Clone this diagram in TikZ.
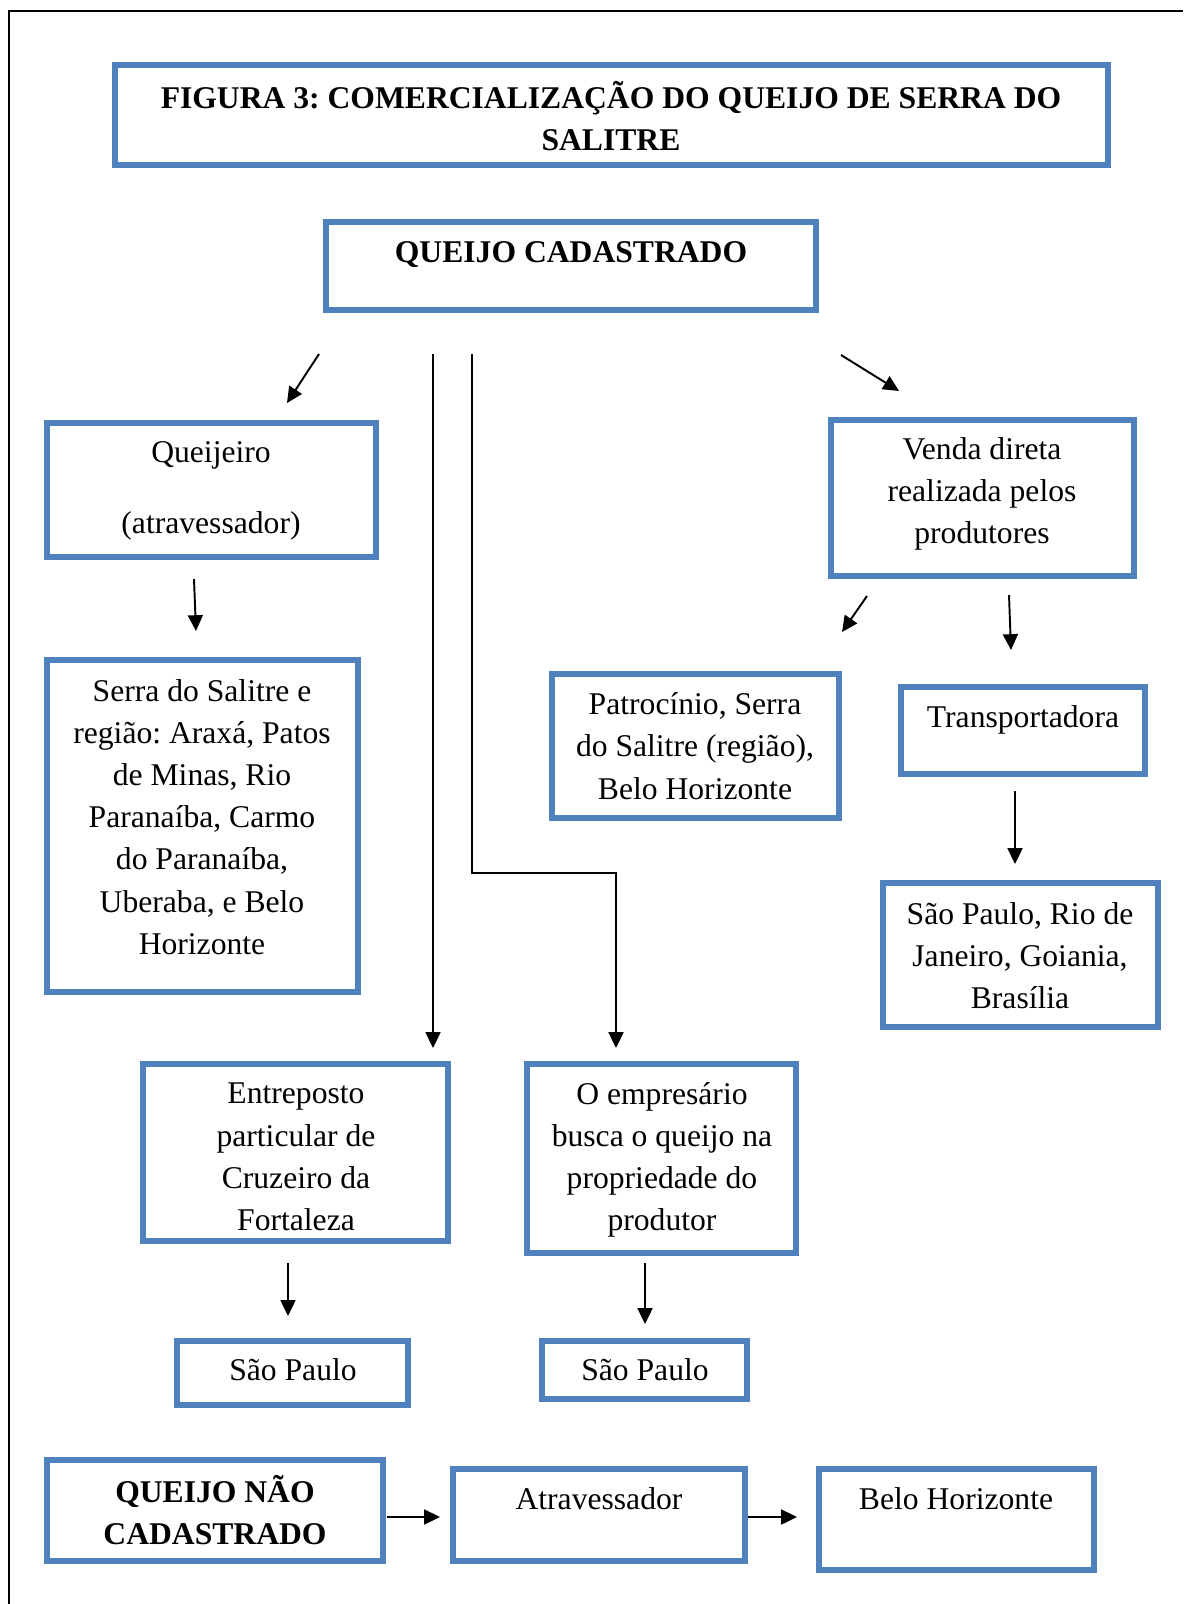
\documentclass[tikz,border=0pt]{standalone}
\usepackage{fontspec}
\setmainfont{Liberation Serif}
\usetikzlibrary{arrows.meta}
\definecolor{boxblue}{RGB}{79,129,189}
\frenchspacing
\tikzset{
  box/.style={draw=boxblue, line width=3.4pt, inner sep=0pt},
  txt/.style={align=center, inner sep=0pt, font=\fontsize{18}{24}\selectfont},
  btxt/.style={txt, font=\fontsize{18}{23.5}\selectfont\bfseries},
  arr/.style={-{Triangle[length=9pt,width=8.5pt]}, line width=1.1pt},
}
\begin{document}
\begin{tikzpicture}[x=0.02cm, y=-0.02cm]
\useasboundingbox (0,0) rectangle (1183,1604);

% frame
\coordinate (fbl) at (9,1604);
\coordinate (ftl) at (9,11);
\coordinate (ftr) at (1183,11);
\draw[line width=1.1pt] (fbl) -- (ftl) -- (ftr);

% title
\node[box, minimum width=19.86cm, minimum height=2cm] (title) at (611.5,115) {};
\node[btxt] (title-t) at (611,116) {FIGURA 3: COMERCIALIZAÇÃO DO QUEIJO DE SERRA DO\\SALITRE};

% queijo cadastrado
\node[box, minimum width=9.8cm, minimum height=1.76cm] (cad) at (571,266) {};
\node[btxt] (cad-t) at (571,255) {QUEIJO CADASTRADO};

% left branch
\node[box, minimum width=6.58cm, minimum height=2.68cm] (qjo) at (211.5,490) {};
\node[txt] (qjo-t) at (211,491) {Queijeiro\\[16pt](atravessador)};
\node[box, minimum width=6.22cm, minimum height=6.64cm] (reg) at (202.5,826) {};
\node[txt] (reg-t) at (202,817) {Serra do Salitre e\\região: Araxá, Patos\\de Minas, Rio\\Paranaíba, Carmo\\do Paranaíba,\\Uberaba, e Belo\\Horizonte};

% right branch
\node[box, minimum width=6.06cm, minimum height=3.12cm] (ven) at (982.5,498) {};
\node[txt] (ven-t) at (982,494) {Venda direta\\realizada pelos\\produtores};
\node[box, minimum width=5.74cm, minimum height=2.88cm] (pat) at (695.5,746) {};
\node[txt] (pat-t) at (695,746) {Patrocínio, Serra\\do Salitre (região),\\Belo Horizonte};
\node[box, minimum width=4.88cm, minimum height=1.74cm] (trp) at (1023,730.5) {};
\node[txt] (trp-t) at (1023,720) {Transportadora};
\node[box, minimum width=5.5cm, minimum height=2.88cm] (cid) at (1020.5,955) {};
\node[txt] (cid-t) at (1020,956) {São Paulo, Rio de\\Janeiro, Goiania,\\Brasília};

% middle branches
\node[box, minimum width=6.1cm, minimum height=3.54cm] (ent) at (295.5,1152.5) {};
\node[txt] (ent-t) at (296,1157) {Entreposto\\particular de\\Cruzeiro da\\Fortaleza};
\node[box, minimum width=5.38cm, minimum height=3.78cm] (emp) at (661.5,1158.5) {};
\node[txt] (emp-t) at (662,1160) {O empresário\\busca o queijo na\\propriedade do\\produtor};
\node[box, minimum width=4.62cm, minimum height=1.28cm] (sp1) at (292.5,1373) {};
\node[txt] (sp1-t) at (293,1370) {São Paulo};
\node[box, minimum width=4.1cm, minimum height=1.16cm] (sp2) at (644.5,1370) {};
\node[txt] (sp2-t) at (645,1370) {São Paulo};

% queijo nao cadastrado
\node[box, minimum width=6.72cm, minimum height=2.02cm] (nao) at (215,1510.5) {};
\node[btxt] (nao-t) at (215,1510) {QUEIJO NÃO\\CADASTRADO};
\node[box, minimum width=5.84cm, minimum height=1.84cm] (atr) at (599,1515) {};
\node[txt] (atr-t) at (599,1499) {Atravessador};
\node[box, minimum width=5.5cm, minimum height=2.02cm] (bh) at (956.5,1519.5) {};
\node[txt] (bh-t) at (956,1499) {Belo Horizonte};

% arrow ends
\coordinate (a1s) at (319,354);  \coordinate (a1e) at (287,403);
\coordinate (v1s) at (433,354);  \coordinate (v1e) at (433,1048);
\coordinate (v2s) at (472,354);  \coordinate (v2k) at (472,873);
\coordinate (v2m) at (616,873);  \coordinate (v2e) at (616,1048);
\coordinate (a4s) at (841,355);  \coordinate (a4e) at (899,391);
\coordinate (a5s) at (194,579);  \coordinate (a5e) at (196,631);
\coordinate (a6s) at (867,596);  \coordinate (a6e) at (842,632);
\coordinate (a7s) at (1009,595); \coordinate (a7e) at (1011,650);
\coordinate (a8s) at (1015,791); \coordinate (a8e) at (1015,864);
\coordinate (a9s) at (288,1263); \coordinate (a9e) at (288,1316);
\coordinate (a10s) at (645,1263); \coordinate (a10e) at (645,1324);
\coordinate (a11s) at (387,1517); \coordinate (a11e) at (440,1517);
\coordinate (a12s) at (748,1517); \coordinate (a12e) at (797,1517);

% arrows
\draw[arr] (a1s) -- (a1e);
\draw[arr] (v1s) -- (v1e);
\draw[arr] (v2s) -- (v2k) -- (v2m) -- (v2e);
\draw[arr] (a4s) -- (a4e);
\draw[arr] (a5s) -- (a5e);
\draw[arr] (a6s) -- (a6e);
\draw[arr] (a7s) -- (a7e);
\draw[arr] (a8s) -- (a8e);
\draw[arr] (a9s) -- (a9e);
\draw[arr] (a10s) -- (a10e);
\draw[arr] (a11s) -- (a11e);
\draw[arr] (a12s) -- (a12e);
\end{tikzpicture}
\end{document}
